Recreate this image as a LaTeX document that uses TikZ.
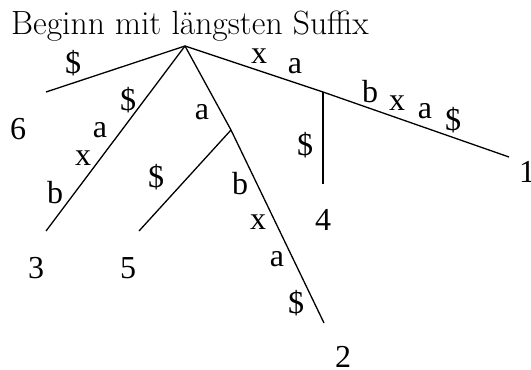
\documentclass[tikz,border=0pt]{standalone}
\usepackage{fontspec}
\newfontfamily\lblfont{Liberation Serif}
\tikzset{
  edge/.style={line width=1.3pt, black},
  lbl/.style={inner sep=0pt, font=\lblfont\fontsize{32}{36}\selectfont},
  leaf/.style={inner sep=0pt, font=\lblfont\fontsize{32}{36}\selectfont},
}
\begin{document}
\begin{tikzpicture}[x=1pt,y=-1pt]
\useasboundingbox (0,0) rectangle (531,370);
\node[anchor=base west, inner sep=0pt, font=\fontsize{33.6}{38}\selectfont] (title) at (11,34) {Beginn mit längsten Suffix};
% tree points
\coordinate (root) at (185,46);
\coordinate (e6) at (46,92);
\coordinate (e3) at (46,231);
\coordinate (ia) at (231,130);
\coordinate (e5) at (139,231);
\coordinate (e2) at (324,323);
\coordinate (ixa) at (323,92);
\coordinate (e4) at (323,184);
\coordinate (e1) at (509,157);
% edges
\draw[edge] (root) -- (e6);
\draw[edge] (root) -- (e3);
\draw[edge] (root) -- (ia);
\draw[edge] (ia) -- (e5);
\draw[edge] (ia) -- (e2);
\draw[edge] (root) -- (ixa);
\draw[edge] (ixa) -- (e4);
\draw[edge] (ixa) -- (e1);
% leaf numbers
\node[leaf] (n6) at (18,129) {6};
\node[leaf] (n3) at (36,268) {3};
\node[leaf] (n5) at (128,268) {5};
\node[leaf] (n2) at (343,357) {2};
\node[leaf] (n4) at (323,220) {4};
\node[leaf] (n1) at (527,172) {1};
% edge labels
\node[lbl] (l6) at (73,63) {\$};
\node[lbl] (l3d) at (128,100) {\$};
\node[lbl] (l3a) at (100,130) {a};
\node[lbl] (l3x) at (83,158) {x};
\node[lbl] (l3b) at (55,193) {b};
\node[lbl] (lia) at (202,112) {a};
\node[lbl] (l5) at (156,177) {\$};
\node[lbl] (l2b) at (240,184) {b};
\node[lbl] (l2x) at (258,222) {x};
\node[lbl] (l2a) at (277,259) {a};
\node[lbl] (l2d) at (296,303) {\$};
\node[lbl] (lxx) at (259,56) {x};
\node[lbl] (lxa) at (295,66) {a};
\node[lbl] (l4) at (305,145) {\$};
\node[lbl] (l1b) at (370,92) {b};
\node[lbl] (l1x) at (397,103) {x};
\node[lbl] (l1a) at (425,111) {a};
\node[lbl] (l1d) at (453,120) {\$};
\end{tikzpicture}
\end{document}
